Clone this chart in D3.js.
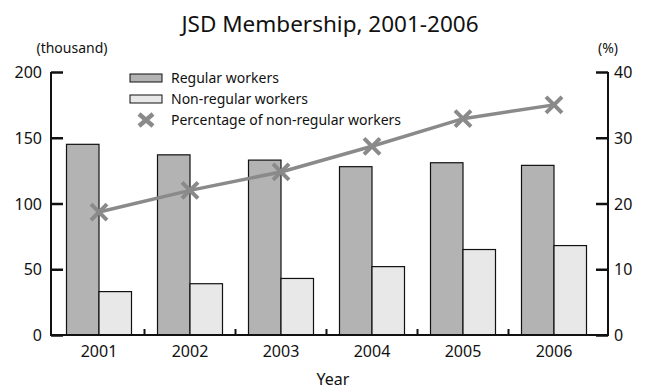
<!DOCTYPE html>
<html>
<head>
<meta charset="utf-8">
<script src="https://cdn.jsdelivr.net/npm/d3@7"></script>
<style>
  body { margin: 0; background: #fff; }
  svg text { font-family: "Noto Sans", sans-serif; fill: #111; }
</style>
</head>
<body>
<div id="chart"></div>
<script>
// data
const years = ["2001", "2002", "2003", "2004", "2005", "2006"];
const regularWorkers = [145, 137, 133, 128, 131, 129];      // thousand
const nonRegularWorkers = [33, 39, 43, 52, 65, 68];         // thousand
const pctNonRegular = [18.7, 22.0, 24.8, 28.7, 32.9, 35.0]; // %
const leftTicks = [0, 50, 100, 150, 200];
const rightTicks = [0, 10, 20, 30, 40];

const colors = {
  regular: "#b3b3b3",
  nonregular: "#e8e8e8",
  line: "#8a8a8a"
};

const W = 648, H = 389;
const svg = d3.select("#chart").append("svg")
  .attr("width", W).attr("height", H);

const axisLeftX = 51, axisRightX = 608;
const yTop = 72, yBottom = 335;

const x = d3.scaleBand().domain(years).range([53.5, 599.5]).padding(0);
const yL = d3.scaleLinear().domain([0, 200]).range([yBottom, yTop]);
const yR = d3.scaleLinear().domain([0, 40]).range([yBottom, yTop]);
const barW = 32.5;

// title
svg.append("text").attr("x", 330).attr("y", 32)
  .attr("text-anchor", "middle").style("font-size", "22.5px")
  .text("JSD Membership, 2001-2006");

svg.append("text").attr("x", 72).attr("y", 53)
  .attr("text-anchor", "middle").style("font-size", "14px")
  .text("(thousand)");
svg.append("text").attr("x", 608).attr("y", 53)
  .attr("text-anchor", "middle").style("font-size", "14px")
  .text("(%)");

// bars
const g = svg.append("g");
g.selectAll("rect.reg").data(years).join("rect")
  .attr("class", "reg")
  .attr("x", d => x(d) + x.bandwidth() / 2 - barW)
  .attr("width", barW)
  .attr("y", (d, i) => yL(regularWorkers[i]))
  .attr("height", (d, i) => yBottom - yL(regularWorkers[i]))
  .attr("fill", colors.regular).attr("stroke", "#111").attr("stroke-width", 1.2);
g.selectAll("rect.non").data(years).join("rect")
  .attr("class", "non")
  .attr("x", d => x(d) + x.bandwidth() / 2)
  .attr("width", barW)
  .attr("y", (d, i) => yL(nonRegularWorkers[i]))
  .attr("height", (d, i) => yBottom - yL(nonRegularWorkers[i]))
  .attr("fill", colors.nonregular).attr("stroke", "#111").attr("stroke-width", 1.2);

// axes
const leftAxis = svg.append("g").attr("transform", `translate(${axisLeftX},0)`)
  .call(d3.axisRight(yL).tickValues(leftTicks).tickSize(12).tickFormat(""));
const rightAxis = svg.append("g").attr("transform", `translate(${axisRightX},0)`)
  .call(d3.axisLeft(yR).tickValues(rightTicks).tickSize(12).tickFormat(""));
[leftAxis, rightAxis].forEach(a => {
  a.select(".domain").attr("stroke", "#111").attr("stroke-width", 2)
    .attr("d", `M0,${yTop}V${yBottom}`);
  a.selectAll(".tick line").attr("stroke", "#111").attr("stroke-width", 2.5);
});

svg.selectAll("text.lt").data(leftTicks).join("text")
  .attr("class", "lt")
  .attr("x", 42).attr("y", d => yL(d) + 6)
  .attr("text-anchor", "end").style("font-size", "16px")
  .text(d => d);
svg.selectAll("text.rt").data(rightTicks).join("text")
  .attr("class", "rt")
  .attr("x", 614).attr("y", d => yR(d) + 6)
  .attr("text-anchor", "start").style("font-size", "16px")
  .text(d => d);

// bottom axis
svg.append("line").attr("x1", axisLeftX - 1).attr("x2", axisRightX + 1)
  .attr("y1", yBottom).attr("y2", yBottom)
  .attr("stroke", "#111").attr("stroke-width", 2);
svg.selectAll("line.xt").data(years.slice(1)).join("line")
  .attr("class", "xt")
  .attr("x1", d => x(d)).attr("x2", d => x(d))
  .attr("y1", yBottom).attr("y2", yBottom - 6)
  .attr("stroke", "#111").attr("stroke-width", 2);
svg.selectAll("text.xl").data(years).join("text")
  .attr("class", "xl")
  .attr("x", d => x(d) + x.bandwidth() / 2).attr("y", 357)
  .attr("text-anchor", "middle").style("font-size", "16px")
  .text(d => d);
svg.append("text").attr("x", 333).attr("y", 385)
  .attr("text-anchor", "middle").style("font-size", "16px")
  .text("Year");

// percentage line
const line = d3.line()
  .x((d, i) => x(years[i]) + x.bandwidth() / 2)
  .y(d => yR(d));
svg.append("path").datum(pctNonRegular)
  .attr("d", line).attr("fill", "none")
  .attr("stroke", colors.line).attr("stroke-width", 3.5);

function cross(sel, s) {
  sel.append("path")
    .attr("d", `M${-s},${-s}L${s},${s}M${-s},${s}L${s},${-s}`)
    .attr("stroke", colors.line).attr("stroke-width", 4).attr("fill", "none");
}
svg.selectAll("g.mk").data(pctNonRegular).join("g")
  .attr("class", "mk")
  .attr("transform", (d, i) => `translate(${x(years[i]) + x.bandwidth() / 2},${yR(d)})`)
  .each(function () { cross(d3.select(this), 8); });

// legend
const legendItems = [
  { label: "Regular workers", type: "rect", fill: colors.regular },
  { label: "Non-regular workers", type: "rect", fill: colors.nonregular },
  { label: "Percentage of non-regular workers", type: "cross" }
];
const lg = svg.append("g").attr("transform", "translate(130,0)");
legendItems.forEach((it, i) => {
  const cy = 78 + i * 21;
  if (it.type === "rect") {
    lg.append("rect").attr("x", 0).attr("y", cy - 4).attr("width", 32).attr("height", 8)
      .attr("fill", it.fill).attr("stroke", "#111").attr("stroke-width", 1);
  } else {
    const c = lg.append("g").attr("transform", `translate(16,${cy})`);
    c.append("path").attr("d", "M-7,-6L7,6M-7,6L7,-6")
      .attr("stroke", colors.line).attr("stroke-width", 4.5).attr("fill", "none");
  }
  lg.append("text").attr("x", 41).attr("y", cy + 5)
    .style("font-size", "14px").text(it.label);
});
</script>
</body>
</html>
